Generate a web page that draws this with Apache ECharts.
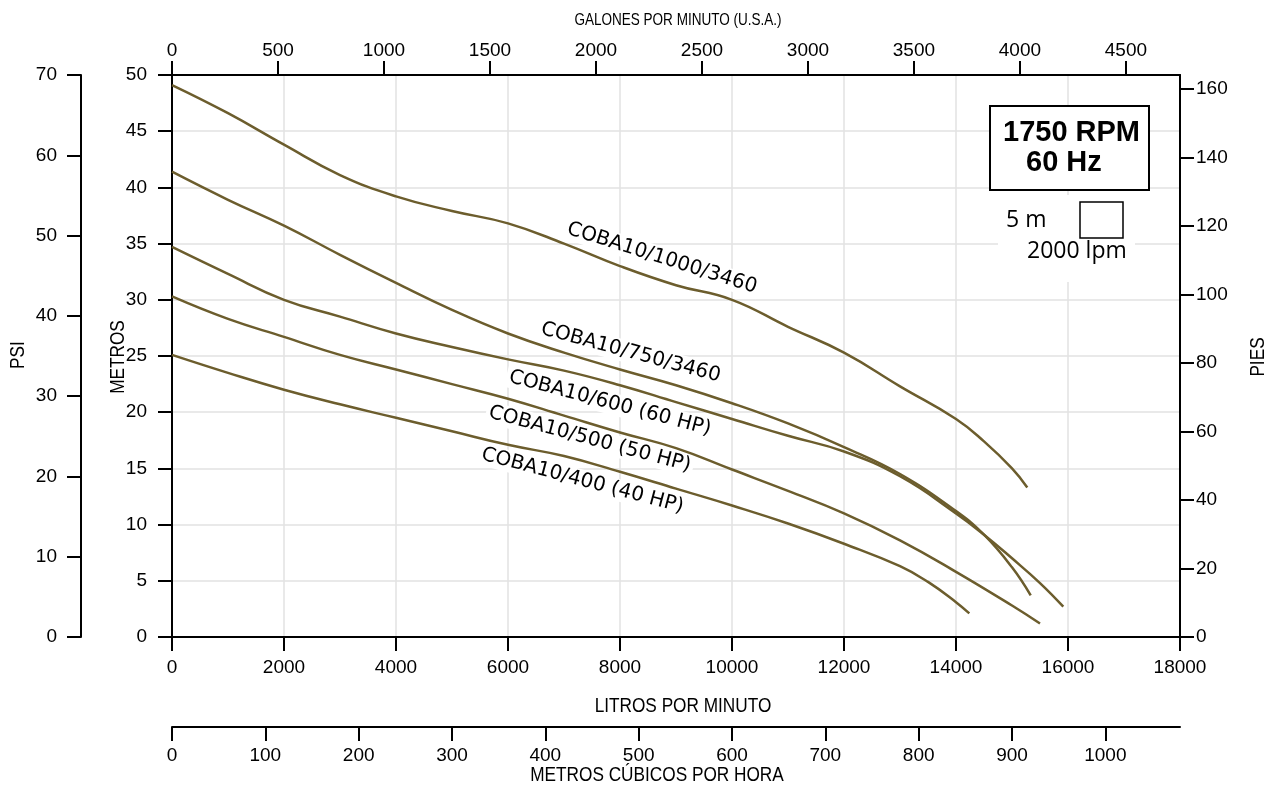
<!DOCTYPE html>
<html><head><meta charset="utf-8">
<script src="https://cdn.jsdelivr.net/npm/echarts@6/dist/echarts.min.js"></script>
<style>html,body{margin:0;padding:0;background:#fff}#c{width:1278px;height:788px}</style>
</head><body><div id="c"></div>
<script>
// ---- data ----
const LPM_PER_GPM = 3.78541;
const M_PER_FT = 0.3048;
const LPM_MAX = 18000;

const gpmTicks = [0,500,1000,1500,2000,2500,3000,3500,4000,4500];
const m3hTicks = [0,100,200,300,400,500,600,700,800,900,1000];
const piesTicks = [0,20,40,60,80,100,120,140,160];

const axisTitles = ['LITROS POR MINUTO','GALONES POR MINUTO (U.S.A.)','METROS CÚBICOS POR HORA','METROS','PIES','PSI'];
const curveNames = ['COBA10/1000/3460','COBA10/750/3460','COBA10/600 (60 HP)','COBA10/500 (50 HP)','COBA10/400 (40 HP)'];

const c1000Flow = [0,1000,2000,3000,4000,5000,6000,7000,8000,9000,10000,11000,12000,13000,14000,14500,15000,15273];
const c1000Head = [49.1,46.6,43.8,41.1,39.2,37.9,36.8,35.0,33.0,31.3,30.0,27.6,25.3,22.3,19.4,17.4,15.0,13.3];

const c750Flow = [0,1000,2000,3000,4000,5000,6000,7000,8000,9000,10000,11000,12000,13000,14000,14500,15000,15334];
const c750Head = [41.4,38.9,36.6,34.0,31.5,29.1,27.0,25.3,23.8,22.4,20.8,19.0,16.9,14.5,11.2,9.1,6.2,3.7];

const c600Flow = [0,1000,2000,3000,4000,5000,6000,7000,8000,9000,10000,11000,12000,13000,14000,14500,15000,15500,15916];
const c600Head = [34.7,32.3,30.0,28.5,27.0,25.8,24.7,23.7,22.4,20.9,19.4,17.9,16.5,14.3,11.0,9.1,7.0,4.8,2.7];

const c500Flow = [0,1000,2000,3000,4000,5000,6000,7000,8000,9000,10000,11000,12000,13000,14000,15000,15500];
const c500Head = [30.3,28.3,26.7,25.1,23.8,22.5,21.2,19.7,18.2,16.8,14.9,13.0,11.0,8.6,5.8,2.8,1.2];

const c400Flow = [0,1000,2000,3000,4000,5000,6000,7000,8000,9000,10000,11000,12000,13000,13500,14000,14238];
const c400Head = [25.1,23.5,22.0,20.7,19.5,18.3,17.1,16.1,14.7,13.2,11.7,10.1,8.3,6.3,4.9,3.1,2.1];

// label anchors in data units (lpm, m) and slope angle in degrees
const labelFlow = [8750,8190,7820,7460,7330];
const labelHead = [33.7,25.3,20.8,17.6,13.9];
const labelAngle = [17.5,15,14.8,15,14.8];

// ---- chart ----
const curves = [[c1000Flow,c1000Head],[c750Flow,c750Head],[c600Flow,c600Head],[c500Flow,c500Head],[c400Flow,c400Head]];
const lineColor = '#6c5d2d';
const plain = v => String(Math.round(v));
const numFont = {color:'#000', fontFamily:'Liberation Sans, Arial, sans-serif', fontSize:19, formatter:plain};
const axLine = {show:true, onZero:false, lineStyle:{color:'#000', width:2}};
const axTick = {show:true, length:14, lineStyle:{color:'#000', width:2}};
const grid = {show:true, lineStyle:{color:'#e2e2e2', width:1.5}};

const chart = echarts.init(document.getElementById('c'), null, {renderer:'canvas'});
const option = {
  animation:false,
  backgroundColor:'#fff',
  grid:{left:172, right:98, top:75, bottom:151, containLabel:false},
  xAxis:[
    {type:'value', position:'bottom', min:0, max:LPM_MAX, interval:2000,
     axisLine:axLine, axisTick:axTick, axisLabel:Object.assign({margin:21}, numFont),
     splitLine:grid},
    {type:'value', position:'top', min:0, max:LPM_MAX/LPM_PER_GPM,
     axisLine:axLine, axisTick:Object.assign({customValues:gpmTicks}, axTick),
     axisLabel:Object.assign({margin:15, customValues:gpmTicks}, numFont),
     splitLine:{show:false}},
    {type:'value', position:'bottom', offset:90, min:0, max:LPM_MAX*60/1000,
     axisLine:axLine, axisTick:Object.assign({customValues:m3hTicks}, axTick),
     axisLabel:Object.assign({margin:19, customValues:m3hTicks}, numFont),
     splitLine:{show:false}}
  ],
  yAxis:[
    {type:'value', position:'left', min:0, max:50, interval:5,
     axisLine:axLine, axisTick:axTick, axisLabel:Object.assign({margin:25}, numFont),
     splitLine:grid},
    {type:'value', position:'right', min:0, max:50/M_PER_FT,
     axisLine:axLine, axisTick:Object.assign({customValues:piesTicks}, axTick),
     axisLabel:Object.assign({margin:16, customValues:piesTicks}, numFont),
     splitLine:{show:false}},
    {type:'value', position:'left', offset:91, min:0, max:70, interval:10,
     axisLine:axLine, axisTick:axTick, axisLabel:Object.assign({margin:24}, numFont),
     splitLine:{show:false}}
  ],
  series: curves.map((c,i)=>({
    type:'line', name:curveNames[i], xAxisIndex:0, yAxisIndex:0,
    data:c[0].map((f,j)=>[f, c[1][j]]),
    showSymbol:false, symbol:'none', smooth:0.45,
    lineStyle:{color:lineColor, width:2.5}, z:3
  }))
};
chart.setOption(option);

const g = [];
curves.forEach((c,i)=>{
  const p = chart.convertToPixel({xAxisIndex:0, yAxisIndex:0}, [labelFlow[i], labelHead[i]]);
  g.push({type:'text', x:p[0], y:p[1], rotation:-labelAngle[i]*Math.PI/180, z:1,
    style:{text:curveNames[i], align:'center', verticalAlign:'middle',
      fontFamily:'DejaVu Sans, sans-serif', fontSize:20, fill:'#000',
      backgroundColor:'#fff', padding:[1,3]}});
});
// axis titles (narrow style)
const titleFont = 'Liberation Sans, Arial, sans-serif';
const titlePos = [[683,706,0,21],[678,20,0,16.5],[657,775,0,21],[118,357,90,21],[1258,357,90,21],[18,355,90,21]];
axisTitles.forEach((t,i)=>{
  const tp = titlePos[i];
  g.push({type:'text', x:tp[0], y:tp[1], rotation:tp[2]*Math.PI/180, scaleX:0.82, z:2,
    style:{text:t, align:'center', verticalAlign:'middle', fontFamily:titleFont, fontSize:tp[3], fill:'#000'}});
});
// annotation box
g.push({type:'rect', z:1, shape:{x:990, y:106, width:159, height:84}, style:{fill:'#fff', stroke:'#000', lineWidth:2}});
g.push({type:'text', z:2, x:1003, y:133, style:{text:'1750 RPM', align:'left', verticalAlign:'middle', fontFamily:'Liberation Sans, Arial, sans-serif', fontWeight:'bold', fontSize:29, fill:'#000'}});
g.push({type:'text', z:2, x:1026, y:163, style:{text:'60 Hz', align:'left', verticalAlign:'middle', fontFamily:'Liberation Sans, Arial, sans-serif', fontWeight:'bold', fontSize:29, fill:'#000'}});
// scale legend
g.push({type:'rect', z:1, shape:{x:998, y:195, width:137, height:87}, style:{fill:'#fff'}});
g.push({type:'rect', z:2, shape:{x:1080, y:202, width:43, height:36}, style:{fill:'#fff', stroke:'#000', lineWidth:1.5}});
g.push({type:'text', z:2, x:1006, y:220, style:{text:'5 m', align:'left', verticalAlign:'middle', fontFamily:'Open Sans, sans-serif', fontSize:23, fill:'#000'}});
g.push({type:'text', z:2, x:1027, y:251, style:{text:'2000 lpm', align:'left', verticalAlign:'middle', fontFamily:'Open Sans, sans-serif', fontSize:23, fill:'#000'}});
chart.setOption({graphic:{elements:g}});
</script></body></html>
